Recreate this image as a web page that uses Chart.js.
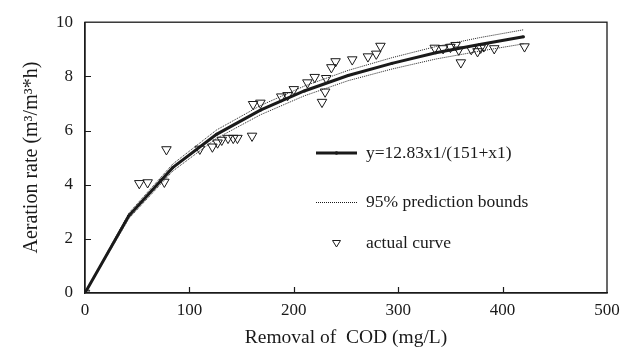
<!DOCTYPE html>
<html>
<head>
<meta charset="utf-8">
<script src="https://cdn.jsdelivr.net/npm/chart.js@4.4.1/dist/chart.umd.min.js"></script>
<style>
    html, body { margin: 0; padding: 0; background: #fff; }
    #wrap { width: 631px; height: 350px; }
</style>
</head>
<body>
<div id="wrap"><canvas id="chart" width="631" height="350"></canvas></div>
<script>
// measured points (Removal of COD, Aeration rate)
const actualX = [0, 52, 60, 76, 78, 110, 122, 127, 131, 137, 142, 146, 160, 161, 168, 188, 194, 200, 213, 220,
    231, 230, 227, 236, 240, 256, 271, 279, 283, 335, 343, 350, 355, 358, 360, 370, 376, 379, 382, 392, 421];
const actualY = [0, 4.05, 4.08, 4.1, 5.3, 5.32, 5.4, 5.55, 5.65, 5.72, 5.72, 5.72, 5.8, 6.97, 7.02, 7.25, 7.3, 7.52, 7.77, 7.97,
    7.93, 7.43, 7.05, 8.33, 8.55, 8.62, 8.73, 8.83, 9.12, 9.05, 9.03, 9.08, 9.15, 8.98, 8.51, 9.0, 8.92, 9.05, 9.1, 9.03, 9.1];

// fitted curve and 95% bounds
const fitX = [0, 42, 84, 126, 168, 210, 252, 294, 336, 378, 420];
const fitY = [0, 2.85, 4.63, 5.86, 6.75, 7.46, 8.03, 8.48, 8.87, 9.18, 9.46];
const upperY = [0, 2.95, 4.76, 6.02, 6.92, 7.64, 8.22, 8.69, 9.10, 9.43, 9.72];
const lowerY = [0, 2.75, 4.50, 5.71, 6.58, 7.28, 7.84, 8.27, 8.64, 8.93, 9.20];

const xTicks = [0, 100, 200, 300, 400, 500];
const yTicks = [0, 2, 4, 6, 8, 10];

const legendLabels = ['y=12.83x1/(151+x1)', '95% prediction bounds', 'actual curve'];

const serif = '"Liberation Serif", "DejaVu Serif", serif';
const ink = '#1a1a1a';

function toPoints(xs, ys) {
    return xs.map((x, i) => ({ x: x, y: ys[i] }));
}

// frame, inside ticks and legend
const framePlugin = {
    id: 'frame',
    afterDraw(chart) {
        const ctx = chart.ctx;
        const a = chart.chartArea;
        const xs = chart.scales.x;
        const ys = chart.scales.y;
        ctx.save();
        ctx.strokeStyle = ink;
        ctx.lineWidth = 1.3;
        ctx.strokeRect(a.left, a.top, a.right - a.left, a.bottom - a.top);

        ctx.lineWidth = 1.2;
        ctx.beginPath();
        xTicks.slice(1, -1).forEach(v => {
            const px = Math.round(xs.getPixelForValue(v)) + 0.5;
            ctx.moveTo(px, a.bottom);
            ctx.lineTo(px, a.bottom - 6);
        });
        yTicks.slice(1, -1).forEach(v => {
            const py = Math.round(ys.getPixelForValue(v)) + 0.5;
            ctx.moveTo(a.left, py);
            ctx.lineTo(a.left + 6, py);
        });
        ctx.stroke();

        // legend
        const lx = 316, lw = 41, tx = 366;
        const rows = [153, 202, 243];
        ctx.font = '17.5px ' + serif;
        ctx.fillStyle = ink;
        ctx.textBaseline = 'middle';
        ctx.textAlign = 'left';

        ctx.strokeStyle = ink;
        ctx.lineWidth = 3;
        ctx.setLineDash([]);
        ctx.beginPath();
        ctx.moveTo(lx, rows[0]);
        ctx.lineTo(lx + lw, rows[0]);
        ctx.stroke();
        ctx.beginPath();
        ctx.arc(lx + lw / 2, rows[0], 1.8, 0, Math.PI * 2);
        ctx.fill();
        ctx.fillText(legendLabels[0], tx, rows[0]);

        ctx.lineWidth = 1;
        ctx.setLineDash([1, 1]);
        ctx.beginPath();
        ctx.moveTo(lx, rows[1] + 0.5);
        ctx.lineTo(lx + lw, rows[1] + 0.5);
        ctx.stroke();
        ctx.setLineDash([]);
        ctx.fillText(legendLabels[1], tx, rows[1]);

        const cx = lx + lw / 2, cy = rows[2];
        ctx.beginPath();
        ctx.moveTo(cx - 4, cy - 2.5);
        ctx.lineTo(cx + 4, cy - 2.5);
        ctx.lineTo(cx, cy + 4);
        ctx.closePath();
        ctx.stroke();
        ctx.fillText(legendLabels[2], tx, rows[2]);
        ctx.restore();
    }
};

new Chart(document.getElementById('chart'), {
    type: 'scatter',
    data: {
        datasets: [{
            label: legendLabels[2],
            data: toPoints(actualX, actualY),
            showLine: false,
            pointStyle: 'triangle',
            rotation: 180,
            pointRadius: 5.5,
            backgroundColor: 'rgba(255,255,255,0)',
            borderColor: ink,
            borderWidth: 1,
            order: 0
        }, {
            label: legendLabels[0],
            data: toPoints(fitX, fitY),
            showLine: true,
            borderColor: ink,
            borderWidth: 3,
            pointRadius: 1.5,
            pointBackgroundColor: ink,
            pointBorderWidth: 0,
            order: 1
        }, {
            label: 'upper',
            data: toPoints(fitX, upperY),
            showLine: true,
            borderColor: '#222',
            borderWidth: 1,
            borderDash: [1, 1],
            pointRadius: 0,
            order: 2
        }, {
            label: 'lower',
            data: toPoints(fitX, lowerY),
            showLine: true,
            borderColor: '#222',
            borderWidth: 1,
            borderDash: [1, 1],
            pointRadius: 0,
            order: 2
        }]
    },
    options: {
        responsive: false,
        animation: false,
        layout: { padding: { top: 13, right: 24, left: 0, bottom: 0 } },
        plugins: {
            legend: { display: false },
            tooltip: { enabled: false }
        },
        scales: {
            x: {
                type: 'linear',
                min: 0,
                max: 500,
                afterBuildTicks: s => { s.ticks = xTicks.map(v => ({ value: v })); },
                afterFit: s => { s.height = 57; },
                grid: { display: false, drawTicks: false },
                border: { display: true, color: ink, width: 1.3 },
                ticks: { color: ink, font: { family: serif, size: 17 }, padding: 7, maxRotation: 0 },
                title: {
                    display: true,
                    text: 'Removal of  COD (mg/L)',
                    color: ink,
                    font: { family: serif, size: 19.5 },
                    padding: { top: 5, bottom: 0 }
                }
            },
            y: {
                type: 'linear',
                min: 0,
                max: 10,
                afterBuildTicks: s => { s.ticks = yTicks.map(v => ({ value: v })); },
                afterFit: s => { s.width = 85; },
                grid: { display: false, drawTicks: false },
                border: { display: true, color: ink, width: 1.3 },
                ticks: { color: ink, font: { family: serif, size: 17 }, padding: 12 },
                title: {
                    display: true,
                    text: 'Aeration rate (m³/m³*h)',
                    color: ink,
                    font: { family: serif, size: 20 },
                    padding: { top: 20, bottom: 6 }
                }
            }
        }
    },
    plugins: [framePlugin]
});
</script>
</body>
</html>
